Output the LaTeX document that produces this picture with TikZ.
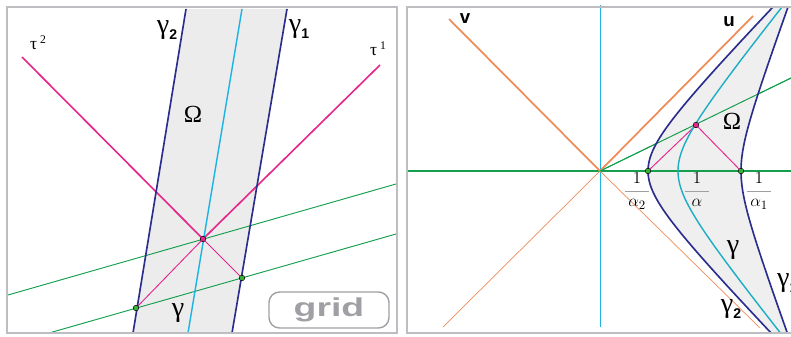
\documentclass[tikz,border=0pt]{standalone}
\usepackage{amsmath}
\usepackage{fontspec}
\setsansfont{Liberation Sans}
\newfontfamily\greekfont{Liberation Serif}
\usepackage{xcolor}
\usepackage{tikz}
\usetikzlibrary{positioning}

\definecolor{gammablue}{RGB}{43,45,140}
\definecolor{skycyan}{RGB}{30,180,228}
\definecolor{tealcyan}{RGB}{28,174,196}
\definecolor{taured}{RGB}{228,40,140}
\definecolor{gridgreen}{RGB}{20,158,78}
\definecolor{axisorange}{RGB}{238,140,90}
\definecolor{bandgrey}{RGB}{236,236,236}
\definecolor{framegrey}{RGB}{190,190,194}
\definecolor{buttongrey}{RGB}{160,160,164}

\newcommand{\glab}[1]{γ\raisebox{-0.45ex}{\fontsize{12}{13}\selectfont\sffamily\bfseries #1}}
\newcommand{\tlab}[1]{τ\,\raisebox{0.75ex}{\fontsize{10}{12}\selectfont #1}}
\newcommand{\invlab}[1]{$\dfrac{\color{black}\hphantom{0}1\hphantom{0}}{\color{black}#1}$}

\begin{document}
\begin{tikzpicture}[
    x=0.03cm, y=-0.03cm,
    frame/.style={draw=framegrey, line width=2pt},
    gammaline/.style={draw=gammablue, line width=1.4pt},
    midline/.style={draw=#1, line width=1.2pt},
    tauthick/.style={draw=taured, line width=1.4pt},
    tauthin/.style={draw=taured, line width=0.8pt},
    gridline/.style={draw=gridgreen, line width=0.8pt},
    axisthick/.style={draw=axisorange, line width=1.5pt},
    axisthin/.style={draw=axisorange, line width=0.6pt},
    gpoint/.style={fill=gridgreen!80!lime, draw=black, line width=0.4pt},
    mpoint/.style={fill=taured, draw=black, line width=0.4pt},
    greeklabel/.style={inner sep=0pt, font={\fontsize{24}{28}\selectfont\greekfont}},
    omegalabel/.style={inner sep=0pt, font={\fontsize{21}{24}\selectfont\greekfont}},
    taulabel/.style={inner sep=0pt, font={\fontsize{15}{18}\selectfont\greekfont}},
    uvlabel/.style={inner sep=0pt, font={\fontsize{16}{18}\selectfont\sffamily\bfseries}},
    fraclabel/.style={inner sep=0pt, text=buttongrey, font={\fontsize{15}{18}\selectfont}},
    button/.style={draw=buttongrey, line width=1.2pt, rounded corners=9pt, minimum width=3.6cm, minimum height=1.08cm, text=buttongrey, font={\fontsize{22}{24}\selectfont\sffamily\bfseries}},
]
\useasboundingbox (0,0) rectangle (791,336);

% Left panel: straight band
\coordinate (g2t) at (186,9);  \coordinate (g2b) at (133,333);
\coordinate (g1t) at (287,9);  \coordinate (g1b) at (232,333);
\coordinate (gt) at (242,9);   \coordinate (gb) at (188,333);
\coordinate (P) at (203,239);
\coordinate (A) at (242,278);
\coordinate (B) at (136,308);
\coordinate (t2) at (22,57);
\coordinate (t1) at (380,65);
\coordinate (h1l) at (8,295);  \coordinate (h1r) at (396,184);
\coordinate (h2l) at (49,333); \coordinate (h2r) at (396,234);

\fill[bandgrey] (g2t) -- (g1t) -- (g1b) -- (g2b) -- cycle;
\draw[gridline] (h1l) -- (h1r);
\draw[gridline] (h2l) -- (h2r);
\draw[tauthick] (t2) -- (P) -- (t1);
\draw[tauthin] (P) -- (A);
\draw[tauthin] (P) -- (B);
\draw[gammaline] (g2t) -- (g2b);
\draw[gammaline] (g1t) -- (g1b);
\draw[midline=skycyan] (gt) -- (gb);

% Right panel: curved band
\coordinate (O) at (600,171);
\coordinate (Q2) at (648,171);
\coordinate (Q1) at (741,171);
\coordinate (M) at (696,125);

\draw[draw=skycyan, line width=0.6pt] (600,5) -- (600,327);
\draw[gridline, line width=1.1pt] (407,171) -- (791,171);
\draw[gridline] (O) -- (791,78);
\draw[axisthick] (449,19) -- (O) -- (753,16);
\draw[axisthin] (443,327) -- (O) -- (760,328);

\begin{scope}
\clip (407,7) rectangle (800,333);
\fill[bandgrey, opacity=0.85] plot[domain=2.2:-2.2, samples=60, variable=\t] ({648+38.8*(cosh(\t)-1)}, {171-40*sinh(\t)})
    -- plot[domain=-2.2:2.2, samples=60, variable=\t] ({741+14.6*(cosh(\t)-1)}, {171-40*sinh(\t)}) -- cycle;
\draw[gridline, line width=1.1pt] (Q2) -- (Q1);
\draw[gridline] (O) -- (791,78);
\draw[tauthin] (Q2) -- (M) -- (Q1);
\draw[gammaline] plot[domain=-2.2:2.2, samples=60, variable=\t] ({648+38.8*(cosh(\t)-1)}, {171-40*sinh(\t)});
\draw[gammaline] plot[domain=-2.2:2.2, samples=60, variable=\t] ({741+14.6*(cosh(\t)-1)}, {171-40*sinh(\t)});
\draw[midline=tealcyan] plot[domain=-2.2:2.2, samples=60, variable=\t] ({678+32.3*(cosh(\t)-1)}, {171-40*sinh(\t)});
\end{scope}

% Frames
\draw[frame] (7,7) rectangle (397,333);
\draw[frame] (407,7) rectangle (820,333);

% Points
\filldraw[mpoint] (P) circle[radius=2.4pt];
\filldraw[gpoint] (A) circle[radius=2.4pt];
\filldraw[gpoint] (B) circle[radius=2.4pt];
\filldraw[gpoint] (Q2) circle[radius=2.4pt];
\filldraw[gpoint] (Q1) circle[radius=2.4pt];
\filldraw[mpoint] (M) circle[radius=2.4pt];

% Labels, left
\node[greeklabel] (lgam2) at (167,30) {\glab{2}};
\node[greeklabel] (lgam1) at (299,29) {\glab{1}};
\node[omegalabel] (lomega) at (193,114) {Ω};
\node[greeklabel] (lgam) at (178,313) {γ};
\node[taulabel] (ltau2) at (38,43) {\tlab{2}};
\node[taulabel] (ltau1) at (378,49) {\tlab{1}};
\node[button] (grid) at (329,310) {\scalebox{1.45}[1]{grid}};

% Labels, right
\node[uvlabel] (lv) at (465,19) {v};
\node[uvlabel] (lu) at (729,22) {u};
\node[omegalabel] (romega) at (732,121) {Ω};
\node[greeklabel] (rgam) at (733,250) {γ};
\node[greeklabel] (rgam2) at (731,309) {\glab{2}};
\node[greeklabel, anchor=west] (rgam1) at (777,283) {\glab{1}};
\node[fraclabel] (inv2) at (637,191) {\invlab{\alpha_2}};
\node[fraclabel] (inv) at (697,190) {\invlab{\alpha}};
\node[fraclabel] (inv1) at (759,191) {\invlab{\alpha_1}};

\end{tikzpicture}
\end{document}
